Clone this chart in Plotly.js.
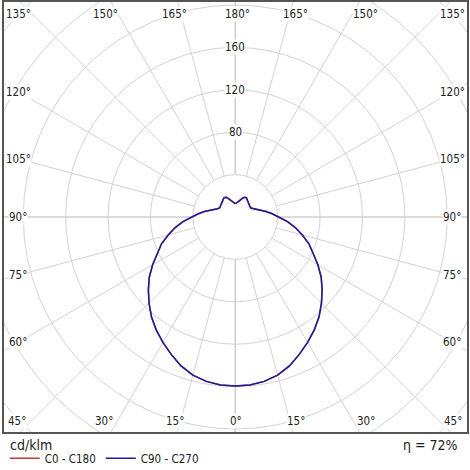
<!DOCTYPE html>
<html>
<head>
<meta charset="utf-8">
<script src="https://cdn.plot.ly/plotly-3.0.1.min.js"></script>
<style>
  html, body { margin: 0; padding: 0; background: #fff; }
  #chart { width: 470px; height: 470px; }
</style>
</head>
<body>
<div id="chart"></div>
<script>
// luminous intensity in cd/klm, gamma angle 0..180 (0 = straight down)
const gamma = [0, 5, 10, 15, 20, 25, 30, 35, 40, 45, 50, 55, 60, 65, 70, 75, 80, 85, 90,
               95, 100, 105, 110, 115, 120, 125, 130, 135, 140, 145, 150, 155, 160, 165, 170, 175, 180];
const c0   = [159.5, 159, 157.5, 154.5, 149.5, 143, 136.5, 130, 123, 115, 107, 99, 90, 81, 74, 65.5, 57.5, 49.5, 41,
              35, 29.5, 25, 21, 18.5, 17, 17, 17.5, 18, 19, 20, 21, 20.5, 18.5, 16, 14.5, 13.5, 12.5];
const c180 = c0.slice();
const c90  = c0.slice();
const c270 = c0.slice();

const ringValues = [40, 80, 120, 160, 200, 240, 280];
const ringLabels = [80, 120, 160];
const sideAngles = [120, 105, 90, 75, 60];
const rowTopAngles = [135, 150, 165, 180];
const rowBottomAngles = [0, 15, 30, 45];
const efficiency = 72;

const K = 1.06; // px per cd/klm
const FONT = 'DejaVu Sans Condensed, DejaVu Sans, sans-serif';
const rad = d => d * Math.PI / 180;

// one C-plane pair -> cartesian curve (left half = second plane, right half = first)
function planePair(right, left) {
    const x = [], y = [];
    for (let i = gamma.length - 1; i >= 0; i--) {
        x.push(-left[i] * Math.sin(rad(gamma[i])));
        y.push(-left[i] * Math.cos(rad(gamma[i])));
    }
    for (let i = 1; i < gamma.length; i++) {
        x.push(right[i] * Math.sin(rad(gamma[i])));
        y.push(-right[i] * Math.cos(rad(gamma[i])));
    }
    return { x, y };
}

const p0 = planePair(c0, c180);
const p90 = planePair(c90, c270);

const data = [
    {
        x: p0.x, y: p0.y, type: 'scatter', mode: 'lines', name: 'C0 - C180',
        line: { color: '#c8373a', width: 1.5 }, hoverinfo: 'skip'
    },
    {
        x: p90.x, y: p90.y, type: 'scatter', mode: 'lines', name: 'C90 - C270',
        line: { color: '#1c1c9e', width: 1.5 }, hoverinfo: 'skip'
    }
];

// grid: rings and spokes
const shapes = [];
ringValues.forEach(r => {
    shapes.push({
        type: 'circle', xref: 'x', yref: 'y', x0: -r, x1: r, y0: -r, y1: r,
        line: { color: '#d2d2d2', width: 1 }, layer: 'below'
    });
});
for (let a = 0; a < 360; a += 15) {
    const main = a % 90 === 0;
    shapes.push({
        type: 'line', xref: 'x', yref: 'y',
        x0: 40 * Math.sin(rad(a)), y0: -40 * Math.cos(rad(a)),
        x1: 340 * Math.sin(rad(a)), y1: -340 * Math.cos(rad(a)),
        line: { color: main ? '#cfcfcf' : '#d2d2d2', width: main ? 1.6 : 1 }, layer: 'below'
    });
}

const annotations = [];
const lbl = (x, y, text, xshift) => annotations.push({
    x, y, xref: 'x', yref: 'y', text, showarrow: false, xshift: xshift || 0,
    font: { family: FONT, size: 11.5, color: '#222' }, bgcolor: '#fff', borderpad: 0
});
const shiftFor = { 0: 1, 15: 6, 30: 13, 45: 14 };

// side columns
const sideX = 217 / K;
sideAngles.forEach(g => {
    const y = -sideX * Math.cos(rad(g)) / Math.sin(rad(g));
    lbl(-sideX, y, g + '°');
    lbl(sideX, y, g + '°');
});
// top row
const topY = 203 / K;
rowTopAngles.forEach(g => {
    const off = 180 - g;
    const x = topY * Math.tan(rad(off));
    if (off === 0) { lbl(0, topY, g + '°', 2); return; }
    lbl(-x, topY, g + '°', -shiftFor[off]);
    lbl(x, topY, g + '°', shiftFor[off]);
});
// bottom row
const botY = 204 / K;
rowBottomAngles.forEach(g => {
    const x = botY * Math.tan(rad(g));
    if (g === 0) { lbl(0, -botY, g + '°', 1); return; }
    lbl(-x, -botY, g + '°', -shiftFor[g]);
    lbl(x, -botY, g + '°', shiftFor[g]);
});
// ring values on the upper axis
ringLabels.forEach(v => lbl(0, v, String(v)));

annotations.push({
    xref: 'paper', yref: 'paper', x: 0.009, y: -0.03, xanchor: 'left', yanchor: 'middle',
    text: 'cd/klm', showarrow: false, font: { family: FONT, size: 14, color: '#222' }
});
annotations.push({
    xref: 'paper', yref: 'paper', x: 0.985, y: -0.03, xanchor: 'right', yanchor: 'middle',
    text: 'η = ' + efficiency + '%', showarrow: false, font: { family: FONT, size: 14, color: '#222' }
});

const axisBase = {
    showgrid: false, zeroline: false, showticklabels: false, ticks: '',
    showline: true, mirror: true, linecolor: '#555', linewidth: 2, fixedrange: true
};

const layout = {
    width: 470, height: 470,
    margin: { l: 4, r: 3, t: 2, b: 38, autoexpand: false },
    paper_bgcolor: '#fff', plot_bgcolor: '#fff',
    xaxis: Object.assign({}, axisBase, { range: [-231.25 / K, 231.75 / K] }),
    yaxis: Object.assign({}, axisBase, { range: [-215 / K, 215 / K] }),
    shapes: shapes,
    annotations: annotations,
    showlegend: true,
    legend: {
        orientation: 'h', xref: 'container', yref: 'container',
        x: 0.01, y: 0.056, xanchor: 'left', yanchor: 'top',
        font: { family: FONT, size: 11.5, color: '#222' }, itemwidth: 30,
        bgcolor: 'rgba(0,0,0,0)'
    },
    font: { family: FONT }
};

Plotly.newPlot('chart', data, layout, { staticPlot: true, displayModeBar: false });
</script>
</body>
</html>
